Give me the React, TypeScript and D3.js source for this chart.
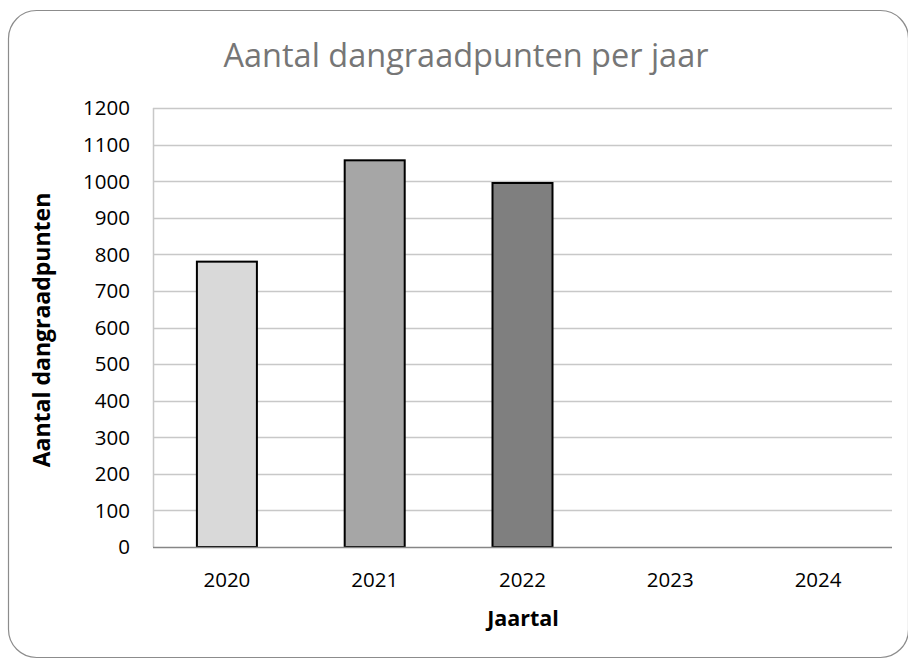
import React, { useEffect, useRef } from 'react';
import * as d3 from 'd3';

const years: string[] = ['2020', '2021', '2022', '2023', '2024'];
const points: (number | null)[] = [780, 1057, 995, null, null];
const barColors: string[] = ['#d9d9d9', '#a6a6a6', '#7f7f7f', '#595959', '#404040'];
const yTicks: number[] = [0, 100, 200, 300, 400, 500, 600, 700, 800, 900, 1000, 1100, 1200];

const chartTitle = 'Aantal dangraadpunten per jaar';
const yTitle = 'Aantal dangraadpunten';
const xTitle = 'Jaartal';

const W = 908;
const H = 659;
const FONT = '"Open Sans", sans-serif';

const App: React.FC = () => {
  const svgRef = useRef<SVGSVGElement | null>(null);

  useEffect(() => {
    if (!svgRef.current) return;
    const svg = d3.select(svgRef.current);
    svg.selectAll('*').remove();

    const margin = { left: 153, right: 16, top: 108, bottom: 112 };
    const x = d3.scaleBand<string>()
      .domain(years)
      .range([margin.left, W - margin.right])
      .paddingInner(0.594)
      .paddingOuter(0.297);
    const y = d3.scaleLinear().domain([0, 1200]).range([H - margin.bottom, margin.top]);

    // chart frame
    svg.append('rect')
      .attr('x', 8.5).attr('y', 10.5)
      .attr('width', W - 8).attr('height', H - 12)
      .attr('rx', 28).attr('ry', 28)
      .attr('fill', '#fff')
      .attr('stroke', '#8c8c8c')
      .attr('stroke-width', 1.2);

    svg.append('text')
      .attr('x', 466).attr('y', 67)
      .attr('text-anchor', 'middle')
      .style('font-family', FONT)
      .style('font-size', '32.5px')
      .style('fill', '#767676')
      .text(chartTitle);

    // gridlines
    svg.append('g')
      .selectAll('line')
      .data(yTicks.filter(t => t > 0))
      .enter().append('line')
      .attr('x1', margin.left).attr('x2', W - margin.right)
      .attr('y1', d => Math.round(y(d)) + 0.5).attr('y2', d => Math.round(y(d)) + 0.5)
      .attr('stroke', '#c8c8c8')
      .attr('stroke-width', 1.5);

    // left edge
    svg.append('line')
      .attr('x1', margin.left + 0.5).attr('x2', margin.left + 0.5)
      .attr('y1', y(1200)).attr('y2', y(0))
      .attr('stroke', '#c8c8c8').attr('stroke-width', 1.5);

    // bars
    const data = years.map((yr, i) => ({ yr, v: points[i], c: barColors[i] }));
    svg.append('g')
      .selectAll('rect')
      .data(data.filter(d => d.v != null))
      .enter().append('rect')
      .attr('x', d => x(d.yr)!)
      .attr('y', d => y(d.v as number))
      .attr('width', x.bandwidth())
      .attr('height', d => y(0) - y(d.v as number))
      .attr('fill', d => d.c)
      .attr('stroke', '#000')
      .attr('stroke-width', 2);

    // baseline
    svg.append('line')
      .attr('x1', margin.left).attr('x2', W - margin.right)
      .attr('y1', Math.round(y(0)) + 0.5).attr('y2', Math.round(y(0)) + 0.5)
      .attr('stroke', '#868686').attr('stroke-width', 1.5);

    // y tick labels
    svg.append('g')
      .selectAll('text')
      .data(yTicks)
      .enter().append('text')
      .attr('x', 130)
      .attr('y', d => y(d))
      .attr('dy', '0.36em')
      .attr('text-anchor', 'end')
      .style('font-family', FONT)
      .style('font-size', '20.5px')
      .style('fill', '#000')
      .text(d => String(d));

    // x tick labels
    svg.append('g')
      .selectAll('text')
      .data(years)
      .enter().append('text')
      .attr('x', d => x(d)! + x.bandwidth() / 2)
      .attr('y', 587)
      .attr('text-anchor', 'middle')
      .style('font-family', FONT)
      .style('font-size', '20.5px')
      .style('fill', '#000')
      .text(d => d);

    svg.append('text')
      .attr('x', 523).attr('y', 626)
      .attr('text-anchor', 'middle')
      .style('font-family', FONT)
      .style('font-size', '21.5px')
      .style('font-weight', 'bold')
      .text(xTitle);

    svg.append('text')
      .attr('transform', `translate(50,${330}) rotate(-90)`)
      .attr('text-anchor', 'middle')
      .style('font-family', FONT)
      .style('font-size', '23px')
      .style('font-weight', 'bold')
      .text(yTitle);
  }, []);

  return (
    <svg ref={svgRef} width={W} height={H}
      style={{ position: 'absolute', left: 0, top: 0, display: 'block' }} />
  );
};

export default App;
